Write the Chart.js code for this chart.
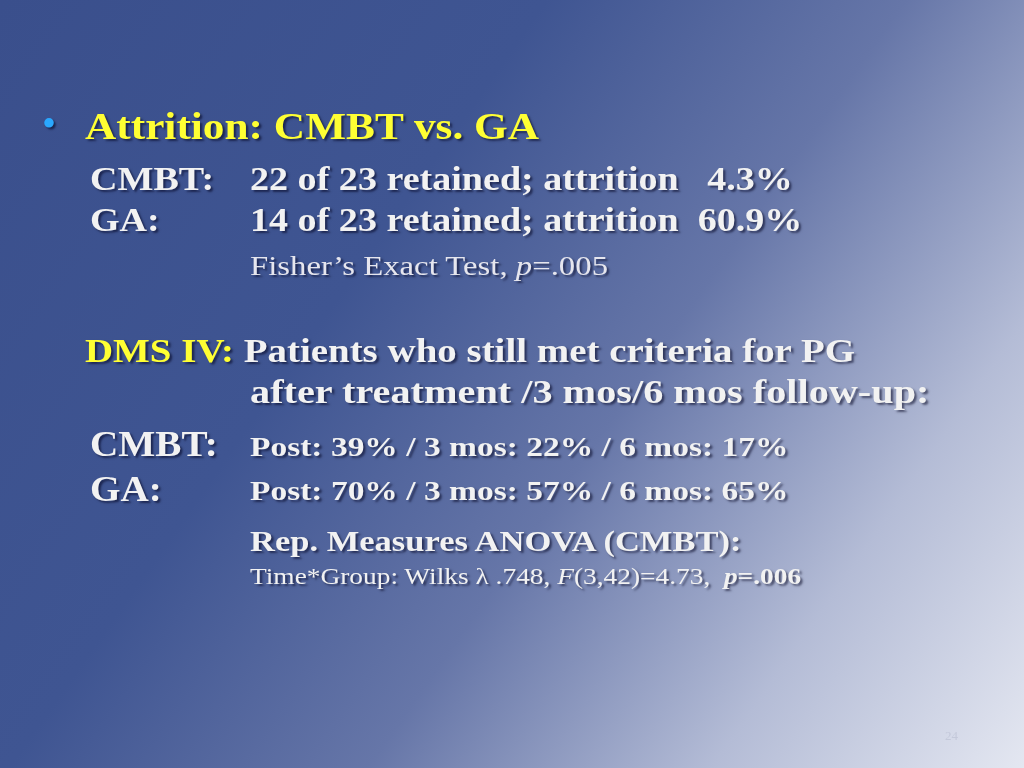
<!DOCTYPE html>
<html><head><meta charset="utf-8">
<script src="https://cdn.jsdelivr.net/npm/chart.js@4"></script>
<style>
html,body{margin:0;padding:0;width:1024px;height:768px;overflow:hidden}
body{background:linear-gradient(125deg,#3a4f8c 0%,#3f5592 35%,#6676a8 58%,#b4bcd6 80%,#e4e7f1 100%);font-family:"Liberation Serif","DejaVu Serif",serif;position:relative}
.t{position:absolute;white-space:nowrap;line-height:1;text-shadow:2px 2px 2px rgba(0,0,30,0.55);transform-origin:left top}
.y{color:#ffff33}.w{color:#f2f2f2}.b{font-weight:bold}
#c{position:absolute;left:0;top:0}
</style></head><body>
<canvas id="c" width="1024" height="768"></canvas>
<div class="t" style="left:42px;top:104px;font-size:40px;color:#2aa8ff">•</div>
<div class="t y b" style="left:85px;top:107px;font-size:38px;transform:scaleX(1.14)">Attrition: CMBT vs. GA</div>
<div class="t w b" style="left:90px;top:162px;font-size:34px;transform:scaleX(1.12)">CMBT:</div>
<div class="t w b" id="l1" style="left:250px;top:162px;font-size:34px;transform:scaleX(1.12)"></div>
<div class="t w b" style="left:90px;top:203px;font-size:34px;transform:scaleX(1.12)">GA:</div>
<div class="t w b" id="l2" style="left:250px;top:203px;font-size:34px;transform:scaleX(1.12)"></div>
<div class="t" style="left:250px;top:252px;font-size:28px;color:#e6e6ee;transform:scaleX(1.17)">Fisher’s Exact Test, <i>p</i>=.005</div>
<div class="t y b" style="left:85px;top:335px;font-size:33px;transform:scaleX(1.18)">DMS IV: <span class="w">Patients who still met criteria for PG</span></div>
<div class="t w b" style="left:250px;top:376px;font-size:33px;transform:scaleX(1.22)">after treatment /3 mos/6 mos follow-up:</div>
<div class="t w b" style="left:90px;top:427px;font-size:35px;transform:scaleX(1.12)">CMBT:</div>
<div class="t w b" id="l3" style="left:250px;top:434px;font-size:27px;transform:scaleX(1.24)"></div>
<div class="t w b" style="left:90px;top:472px;font-size:35px;transform:scaleX(1.12)">GA:</div>
<div class="t w b" id="l4" style="left:250px;top:478px;font-size:27px;transform:scaleX(1.24)"></div>
<div class="t w b" style="left:250px;top:527px;font-size:29px;transform:scaleX(1.19)">Rep. Measures ANOVA (CMBT):</div>
<div class="t w" style="left:250px;top:565px;font-size:23px;transform:scaleX(1.19)">Time*Group: Wilks λ .748, <i>F</i>(3,42)=4.73, &nbsp;<b><i>p</i>=.006</b></div>
<div class="t" style="left:945px;top:729px;font-size:13px;color:#c4c9da;text-shadow:none">24</div>
<script>
const groups=["CMBT","GA"];
const retained=[22,14];
const enrolled=[23,23];
const attrition=["4.3%","60.9%"];
const timepoints=["Post","3 mos","6 mos"];
const cmbtPct=[39,22,17];
const gaPct=[70,57,65];
document.getElementById('l1').innerHTML=retained[0]+" of "+enrolled[0]+" retained; attrition &nbsp;&nbsp;"+attrition[0];
document.getElementById('l2').innerHTML=retained[1]+" of "+enrolled[1]+" retained; attrition &nbsp;"+attrition[1];
const fmt=a=>timepoints.map((t,i)=>t+": "+a[i]+"%").join(" / ");
document.getElementById('l3').textContent=fmt(cmbtPct);
document.getElementById('l4').textContent=fmt(gaPct);
new Chart(document.getElementById('c'),{type:'bar',data:{labels:[],datasets:[]},
options:{responsive:false,animation:false,plugins:{legend:{display:false},tooltip:{enabled:false}},scales:{x:{display:false},y:{display:false}}}});
</script>
</body></html>
